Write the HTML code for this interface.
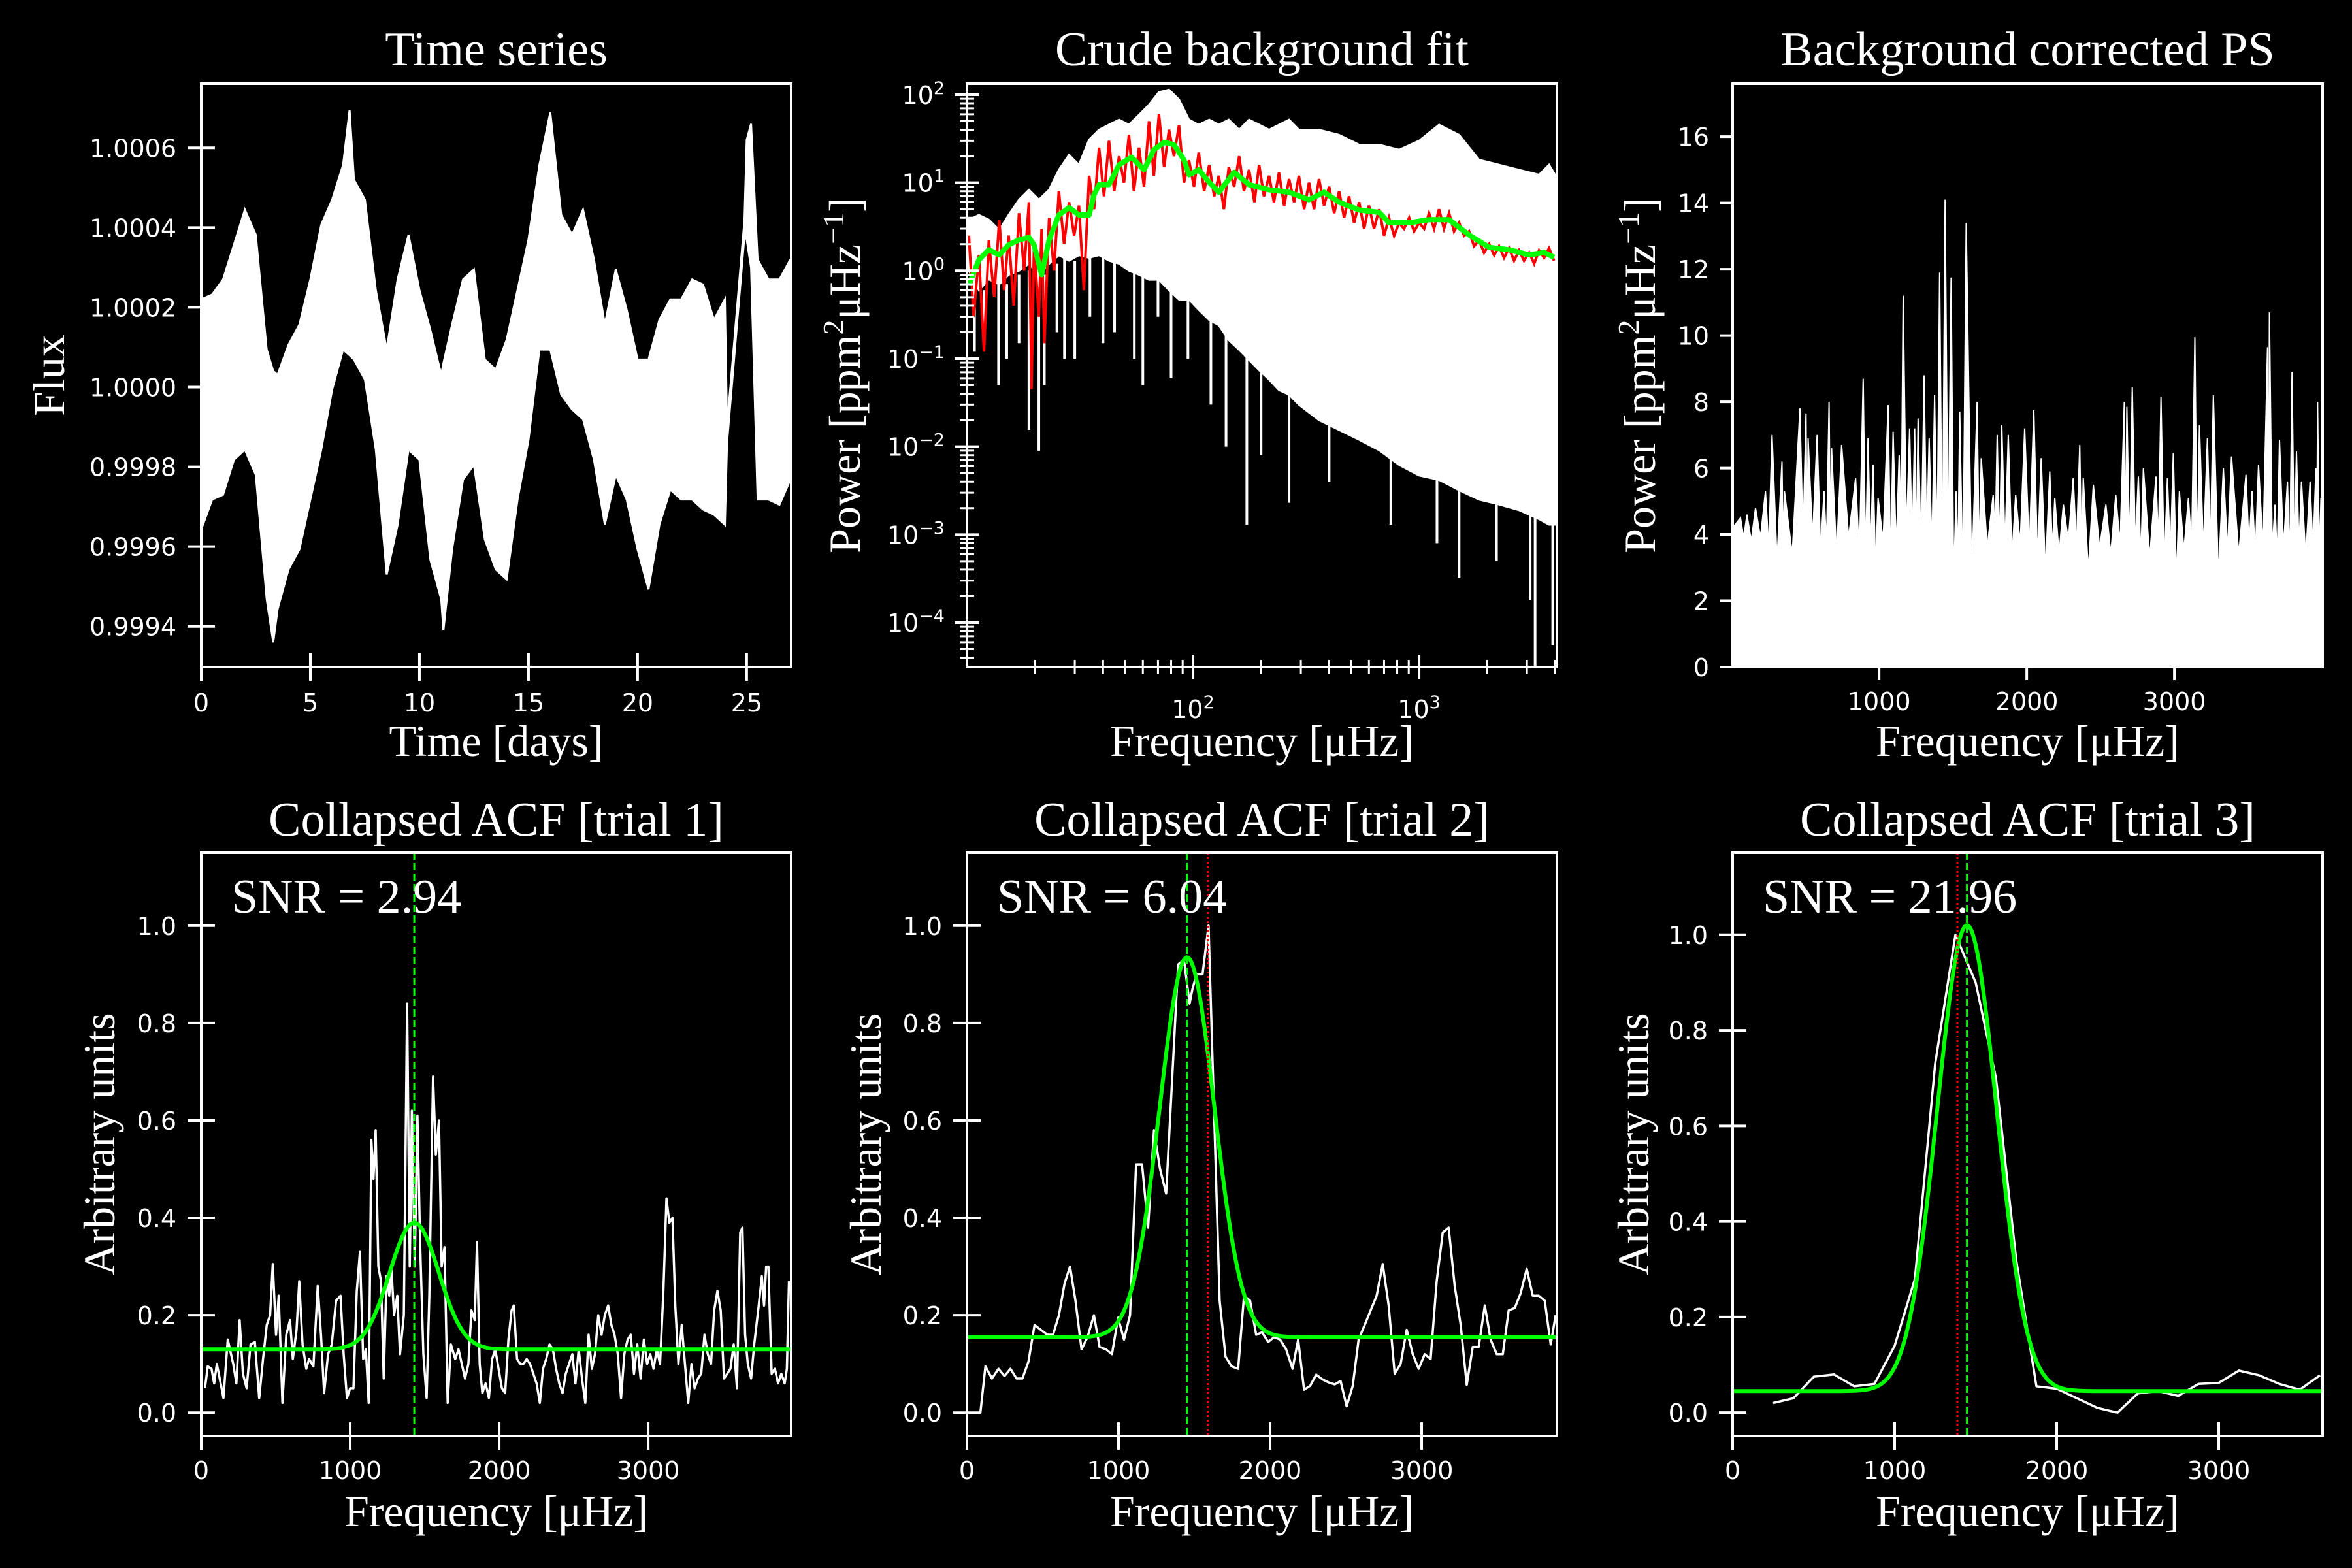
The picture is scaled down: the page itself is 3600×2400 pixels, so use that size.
<!DOCTYPE html>
<html><head><meta charset="utf-8"><title>Seismic diagnostics</title>
<style>html,body{margin:0;padding:0;background:#000;}svg{display:block;}</style></head>
<body>
<svg id="fig" xmlns="http://www.w3.org/2000/svg" width="3600" height="2400" viewBox="0 0 3600 2400">
<rect x="0" y="0" width="3600" height="2400" fill="#000"/>
</svg>
<script>
// ---------- Time series (envelope of flux, ppm offset from 1) ----------
const tsDays = [0,0.5,1,1.5,2,2.5,3,3.3,3.5,4,4.5,5,5.5,6,6.5,6.8,7,7.5,8,8.5,9,9.5,10,10.5,11,11.1,11.5,12,12.5,13,13.5,14,14.5,15,15.5,16,16.5,17,17.5,18,18.5,19,19.5,20,20.5,21,21.5,22,22.5,23,23.5,24,24.1,24.9,25,25.2,25.5,26,26.5,27];
const tsUpperPpm = [220,232,270,357,445,382,94,40,31,106,157,270,407,470,557,695,520,470,244,94,270,382,244,144,31,60,157,270,295,69,44,119,244,370,557,689,432,382,445,320,157,295,194,69,69,169,220,220,270,257,169,220,-100,420,620,660,320,270,270,320];
const tsLowerPpm = [-357,-282,-270,-182,-157,-220,-532,-640,-557,-457,-407,-282,-157,-6,94,80,69,19,-157,-470,-345,-157,-182,-432,-532,-610,-407,-232,-195,-382,-457,-482,-282,-132,94,94,-19,-56,-81,-182,-345,-220,-282,-407,-507,-345,-257,-282,-282,-307,-320,-345,-140,380,370,300,-282,-282,-295,-232];
const tsXTicks = [0,5,10,15,20,25];
const tsYTicks = ["0.9994","0.9996","0.9998","1.0000","1.0002","1.0004","1.0006"];

// ---------- Crude background fit ----------
const pwFreq = [10.2,11.3,12.5,13.9,15.3,17.0,18.8,20.8,23.1,25.5,28.3,31.3,34.7,38.4,42.5,47.1,52.1,57.7,63.9,70.7,78.3,86.7,96,106,118,130,144,160,177,196,217,240,266,294,361,443,543,666,816,1000,1225,1503,1842,2258,2768,3394,3758,4018];
const pwUpper = [3.8,4.3,3.8,2.9,4.3,6.4,8.3,6.4,8.3,14,20.7,16,30.8,40,45.6,52,45.6,59,77,107,114,88,52,45.6,52,45.6,52,40,52,45.6,40,45.6,52,40,40,35,27,27,23.7,30,45.6,35,18.2,16,14,12.3,16,12];
const pwLower = [1.0,0.6,0.8,0.7,0.9,1.0,1.2,0.9,1.2,1.5,1.3,1.5,1.4,1.5,1.3,1.2,1.0,0.9,0.79,0.79,0.6,0.47,0.47,0.36,0.275,0.24,0.163,0.126,0.097,0.074,0.058,0.044,0.039,0.03,0.02,0.0155,0.012,0.0091,0.0062,0.0047,0.0042,0.0032,0.0025,0.0022,0.0019,0.0015,0.0013,0.0013];
const pwDipFreq = [10.8,11.9,13.8,15.0,17.0,18.8,20.8,22.0,25.0,27.0,30.0,35.0,40.0,45.0,55.0,60.0,70.0,80.0,95.0,120,140,173,200,266,400,750,1200,1503,2200,3100,3260,3900];
const pwDipPow = [0.12,0.2,0.05,0.1,0.15,0.0155,0.009,0.05,0.2,0.1,0.1,0.3,0.15,0.2,0.1,0.05,0.3,0.06,0.1,0.03,0.01,0.0013,0.008,0.0023,0.004,0.0013,0.0008,0.00032,0.0005,0.00018,0.00003,0.000055];
const redFreq = [10.2,10.7,11.3,11.9,12.5,13.2,13.9,14.6,15.3,16.1,17.0,17.9,18.8,19.3,19.8,20.8,21.4,22.0,23.1,24.3,25.5,26.9,28.3,29.8,31.3,32.9,34.7,36.5,38.4,40.4,42.5,44.8,47.1,49.5,52.1,54.8,57.7,60.7,63.9,67.1,70.7,74.5,78.3,82.4,86.7,91.2,96,101,106,112,118,124,130,137,144,152,160,168,177,187,196,206,217,228,240,253,266,280,294,310,326,343,361,380,400,421,443,466,490,516,543,571,600,632,666,700,736,775,816,858,904,951,1000,1053,1107,1165,1225,1289,1358,1428,1503,1582,1663,1750,1842,1938,2042,2148,2258,2376,2500,2630,2768,2912,3069,3228,3394,3573,3758,3954];
const redPow = [2.5,0.3,1.5,0.12,2.2,0.5,3.8,0.6,2.5,0.4,4.5,1.0,6.0,0.045,2.0,0.3,3.0,0.15,4.0,1.0,8.0,2.0,6.0,2.5,5.5,0.6,12,5,25,7,30,8,20,10,35,8,25,9,50,12,60,15,40,20,45,10,18,9,22,8,16,7,12,5,15,9,20,8,14,6,16,7,12,6,13,5.5,11,6,12,5,10,5,11,5.5,9,4.5,8,4,7,3.5,6,3,5.5,3,5,2.5,4,2.5,3.5,3,4,2.8,3.5,3,4.5,3,5,3,4.5,2.8,3.5,2.5,2.8,1.9,2.2,1.6,2.0,1.5,1.9,1.4,1.8,1.3,1.7,1.3,1.6,1.2,1.7,1.4,1.8,1.3];
const greenFreq = [10.2,11.3,12.5,13.9,15.3,17.0,18.8,19.8,21.4,23.1,25.5,28.3,31.3,34.7,36.5,38.4,42.5,47.1,53.5,60.7,67.1,74.5,82.4,91.2,96.0,106,118,130,152,177,217,266,326,380,443,543,666,736,904,1107,1358,1663,2042,2500,3069,3573,3954];
const greenPow = [0.69,1.33,1.73,1.51,1.97,2.24,2.39,1.97,0.90,2.24,4.3,5.2,4.3,4.3,7.3,9.5,9.5,16.0,19.5,14.0,23.7,28.8,27.0,18.2,12.3,14.0,10.1,7.8,13.1,9.5,8.3,7.8,6.4,7.8,6.0,4.9,4.6,3.5,3.5,3.8,3.8,2.55,1.84,1.73,1.51,1.61,1.42];
const pwYExp = [2,1,0,-1,-2,-3,-4];
const pwXExp = [2,3];

// ---------- Background corrected PS ----------
const psFreq = [61,105,163,230,275,342,359,464,505,519,580,627,661,678,746,841,892,925,959,993,1061,1095,1136,1163,1207,1241,1264,1305,1339,1376,1410,1447,1488,1522,1546,1590,1664,1692,1773,1800,1831,1875,1925,1986,2048,2098,2156,2190,2248,2315,2359,2383,2451,2536,2603,2661,2678,2715,2756,2790,2875,2909,2953,2993,3034,3095,3139,3170,3224,3264,3332,3387,3485,3526,3570,3631,3644,3682,3712,3766,3797,3827,3861,3919,3959,3970,3993];
const psPeak = [4.5,4.6,4.8,5.3,7.0,6.2,5.3,7.8,7.65,6.9,7.0,5.3,8.0,6.6,6.7,5.7,8.7,6.9,6.1,5.1,7.9,7.1,6.4,11.2,7.2,7.2,7.5,8.8,6.9,8.2,11.9,14.1,11.75,5.3,7.7,13.4,8.0,6.3,5.2,7.0,7.3,7.0,5.2,7.2,7.75,6.3,5.9,5.1,4.9,5.7,6.7,5.7,5.5,4.9,5.2,8.0,7.85,8.45,5.75,6.0,5.75,8.15,5.7,6.45,5.3,5.1,9.95,7.3,6.9,8.2,6.0,6.35,5.8,5.3,6.1,9.65,10.7,4.9,6.85,5.6,8.9,6.5,5.6,5.6,6.0,8.0,5.1];
const psValley = [3.9,3.8,3.9,3.6,3.2,3.5,3.4,3.8,3.6,3.9,3.5,3.6,3.8,3.4,3.9,3.3,3.2,3.5,3.0,3.8,3.0,3.5,4.0,3.9,3.6,3.4,3.3,3.7,3.4,3.4,2.6,3.2,2.5,3.1,2.5,2.6,3.2,3.6,3.8,3.5,3.6,3.3,3.7,3.5,3.2,2.9,3.5,3.4,3.8,3.6,3.3,2.9,3.6,3.4,3.7,3.5,3.4,3.6,3.2,3.3,3.7,3.0,3.4,2.6,3.5,3.6,3.2,3.5,3.6,2.7,3.5,3.4,3.6,3.4,3.6,3.3,3.5,3.2,3.6,3.1,3.4,3.6,3.3,3.5,3.4,3.2,2.9];
const psXTicks = [1000,2000,3000];
const psYTicks = [0,2,4,6,8,10,12,14,16];

// ---------- Collapsed ACF trials ----------
const acf1Freq = [25,44,69,87,105,124,149,178,215,236,258,280,305,331,360,389,415,440,462,480,502,520,545,571,596,615,640,658,680,705,724,753,782,804,825,851,876,905,935,956,978,1000,1022,1044,1065,1087,1105,1124,1142,1156,1171,1189,1207,1225,1244,1262,1276,1294,1316,1334,1360,1382,1400,1414,1433,1451,1469,1491,1513,1531,1556,1575,1596,1614,1633,1654,1676,1705,1727,1749,1771,1793,1814,1836,1851,1869,1887,1909,1931,1953,1974,1996,2018,2040,2062,2083,2098,2120,2142,2163,2185,2207,2229,2251,2273,2294,2316,2338,2360,2382,2403,2425,2447,2469,2491,2512,2534,2556,2578,2600,2622,2643,2665,2687,2709,2731,2753,2774,2796,2818,2840,2862,2883,2905,2927,2949,2971,2993,3014,3036,3058,3080,3102,3123,3142,3163,3182,3203,3225,3247,3269,3291,3312,3334,3356,3378,3400,3422,3443,3465,3487,3509,3531,3552,3574,3596,3618,3633,3651,3669,3691,3712,3742,3763,3778,3792,3807,3829,3851,3872,3894,3916,3931,3945];
const acf1Val = [0.05,0.095,0.09,0.06,0.1,0.07,0.03,0.15,0.1,0.06,0.19,0.08,0.05,0.14,0.145,0.03,0.11,0.18,0.2,0.305,0.16,0.24,0.02,0.16,0.19,0.11,0.17,0.27,0.14,0.09,0.11,0.095,0.26,0.16,0.04,0.12,0.14,0.23,0.24,0.12,0.03,0.05,0.05,0.25,0.33,0.11,0.13,0.02,0.56,0.48,0.58,0.3,0.27,0.07,0.28,0.24,0.3,0.2,0.24,0.12,0.2,0.84,0.3,0.62,0.3,0.61,0.35,0.12,0.03,0.24,0.69,0.53,0.6,0.3,0.34,0.02,0.14,0.11,0.13,0.1,0.07,0.1,0.21,0.19,0.35,0.1,0.04,0.06,0.03,0.11,0.13,0.09,0.05,0.04,0.15,0.21,0.22,0.11,0.1,0.1,0.11,0.1,0.08,0.06,0.02,0.09,0.11,0.14,0.13,0.09,0.06,0.04,0.08,0.1,0.12,0.06,0.13,0.07,0.02,0.16,0.09,0.12,0.2,0.16,0.2,0.22,0.18,0.16,0.12,0.03,0.12,0.15,0.16,0.08,0.14,0.07,0.15,0.1,0.12,0.09,0.13,0.1,0.25,0.44,0.39,0.4,0.22,0.1,0.18,0.1,0.02,0.1,0.05,0.07,0.08,0.16,0.12,0.1,0.21,0.25,0.21,0.07,0.08,0.09,0.14,0.05,0.37,0.38,0.16,0.1,0.07,0.14,0.22,0.28,0.22,0.3,0.3,0.08,0.09,0.06,0.08,0.06,0.09,0.27];
const acf2Freq = [0,89,122,165,208,248,287,327,366,406,446,488,531,568,607,644,680,716,756,795,838,875,917,957,997,1036,1076,1116,1155,1195,1234,1274,1314,1353,1393,1432,1469,1488,1515,1554,1594,1634,1667,1706,1746,1789,1828,1868,1908,1947,1987,2026,2066,2106,2148,2185,2224,2264,2304,2347,2386,2426,2465,2505,2545,2584,2624,2663,2703,2743,2782,2822,2861,2901,2941,2980,3020,3059,3099,3139,3178,3218,3257,3297,3337,3376,3416,3455,3495,3535,3574,3614,3653,3693,3733,3772,3812,3851,3884];
const acf2Val = [0,0,0.095,0.07,0.09,0.075,0.09,0.07,0.07,0.105,0.18,0.17,0.16,0.16,0.2,0.265,0.3,0.23,0.13,0.155,0.2,0.135,0.13,0.12,0.195,0.15,0.2,0.51,0.51,0.38,0.58,0.5,0.45,0.68,0.92,0.93,0.84,0.87,0.9,0.9,1.0,0.58,0.23,0.115,0.095,0.09,0.24,0.23,0.16,0.165,0.145,0.155,0.15,0.13,0.09,0.15,0.047,0.055,0.078,0.068,0.062,0.058,0.065,0.013,0.055,0.15,0.18,0.21,0.24,0.305,0.22,0.08,0.1,0.17,0.12,0.09,0.12,0.11,0.27,0.37,0.38,0.26,0.18,0.057,0.135,0.135,0.22,0.15,0.12,0.12,0.21,0.215,0.245,0.295,0.24,0.24,0.23,0.14,0.2];
const acf3Freq = [250,375,500,625,750,875,1000,1125,1250,1375,1500,1625,1750,1875,2000,2125,2250,2375,2500,2625,2750,2875,3000,3125,3250,3375,3500,3625];
const acf3Val = [0.02,0.03,0.075,0.08,0.055,0.06,0.14,0.28,0.73,1.0,0.9,0.7,0.32,0.055,0.05,0.03,0.01,0.0,0.04,0.045,0.035,0.06,0.062,0.088,0.078,0.06,0.048,0.078];
// fitted gaussian parameters per trial: baseline, amplitude, centre, sigma
const fitBase = [0.13,0.155,0.045];
const fitAmp = [0.26,0.78,0.975];
const fitCentre = [1430,1452,1446];
const fitSigma = [165,180,183];
const trueMarker = [null,1590,1387];
const snrLabels = ["2.94","6.04","21.96"];
const acfXTicks = [0,1000,2000,3000];
const acfYTicks = ["0.0","0.2","0.4","0.6","0.8","1.0"];

// ================= drawing =================
const NS = "http://www.w3.org/2000/svg";
const svg = document.getElementById("fig");
function mk(tag, attrs, parent) {
  const e = document.createElementNS(NS, tag);
  for (const k in attrs) e.setAttribute(k, attrs[k]);
  (parent || svg).appendChild(e);
  return e;
}
function linScale(d0, d1, r0, r1) { return v => r0 + (v - d0) / (d1 - d0) * (r1 - r0); }
function logScale(d0, d1, r0, r1) { return v => r0 + (Math.log10(v) - Math.log10(d0)) / (Math.log10(d1) - Math.log10(d0)) * (r1 - r0); }
const SANS = "DejaVu Sans, Liberation Sans, sans-serif";
const SERIF = "Liberation Serif, DejaVu Serif, serif";

function panel(name, x0, y0, x1, y1) {
  const g = mk("g", {});
  
  
  const cid = name + "-clip";
  const cp = mk("clipPath", {id: cid}, g);
  mk("rect", {x: x0, y: y0, width: x1 - x0, height: y1 - y0}, cp);
  const plot = mk("g", {"clip-path": "url(#" + cid + ")"}, g);
  
  
  return {g, plot, x0, y0, x1, y1};
}
function frame(p) {
  const r = mk("rect", {x: p.x0, y: p.y0, width: p.x1 - p.x0, height: p.y1 - p.y0, fill: "none", stroke: "#fff", "stroke-width": 4}, p.g);
  
  
}
function text(parent, x, y, str, opts) {
  const t = mk("text", {x, y, fill: "#fff", "font-family": opts.family || SANS, "font-size": opts.size || 38, "text-anchor": opts.anchor || "middle"}, parent);
  if (opts.rotate) t.setAttribute("transform", "rotate(-90 " + x + " " + y + ")");
  t.textContent = str;
  return t;
}
function xTick(p, x, len_in, len_out, w) {
  const l = mk("line", {x1: x, x2: x, y1: p.y1 - len_in, y2: p.y1 + len_out, stroke: "#fff", "stroke-width": w}, p.g);
  
  
}
function yTick(p, y, len_in, len_out, w) {
  const l = mk("line", {x1: p.x0 - len_out, x2: p.x0 + len_in, y1: y, y2: y, stroke: "#fff", "stroke-width": w}, p.g);
  
  
}
function title(p, str, y) {
  const t = text(p.g, (p.x0 + p.x1) / 2, y, str, {family: SERIF, size: 74});
  
  
}
function xlabel(p, str, y) {
  const t = text(p.g, (p.x0 + p.x1) / 2, y, str, {family: SERIF, size: 68});
  
  
}
function ylabelPlain(p, str, x) {
  const t = text(p.g, x, (p.y0 + p.y1) / 2, str, {family: SERIF, size: 68, rotate: true});
  
  
}
function ylabelPower(p, x) {
  const t = text(p.g, x, (p.y0 + p.y1) / 2, "", {family: SERIF, size: 68, rotate: true});
  
  
  const parts = [["Power [ppm", 0], ["2", 1], ["μHz", 0], ["−1", 1], ["]", 0]];
  parts.forEach(([s, sup]) => {
    const ts = mk("tspan", sup ? {"baseline-shift": "super", "font-size": 46} : {}, t);
    ts.textContent = s;
  });
}
function pathFrom(pts) { return pts.map((q, i) => (i ? "L" : "M") + q[0].toFixed(1) + "," + q[1].toFixed(1)).join(""); }

// ---- Panel 1: Time series ----
(function () {
  const p = panel("time-series-panel", 308, 128, 1211, 1021);
  const sx = linScale(0, 27.04, p.x0, p.x1);
  const sy = linScale(0.999298, 1.000761, p.y1, p.y0);
  const pts = [];
  tsDays.forEach((d, i) => pts.push([sx(d), sy(1 + tsUpperPpm[i] * 1e-6)]));
  for (let i = tsDays.length - 1; i >= 0; i--) pts.push([sx(tsDays[i]), sy(1 + tsLowerPpm[i] * 1e-6)]);
  const band = mk("path", {d: pathFrom(pts) + "Z", fill: "#fff", stroke: "#fff", "stroke-width": 3}, p.plot);
  
  
  frame(p);
  tsXTicks.forEach(v => { xTick(p, sx(v), 21, 21, 4); text(p.g, sx(v), p.y1 + 68, String(v), {}); });
  tsYTicks.forEach(s => { const y = sy(parseFloat(s)); yTick(p, y, 21, 21, 4); text(p.g, p.x0 - 38, y + 14, s, {anchor: "end"}); });
  title(p, "Time series", 100);
  xlabel(p, "Time [days]", 1157);
  ylabelPlain(p, "Flux", 98);
})();

// ---- Panel 2: Crude background fit ----
(function () {
  const p = panel("background-fit-panel", 1480, 128, 2383, 1021);
  const sx = logScale(10, 4070, p.x0, p.x1);
  const sy = logScale(Math.pow(10, -4.505), Math.pow(10, 2.126), p.y1, p.y0);
  const pts = [];
  pwFreq.forEach((f, i) => pts.push([sx(f), sy(pwUpper[i])]));
  for (let i = pwFreq.length - 1; i >= 0; i--) pts.push([sx(pwFreq[i]), sy(pwLower[i])]);
  const band = mk("path", {d: pathFrom(pts) + "Z", fill: "#fff", stroke: "#fff", "stroke-width": 3}, p.plot);
  
  
  pwDipFreq.forEach((f, i) => {
    let j = 0; while (j < pwFreq.length - 1 && pwFreq[j + 1] < f) j++;
    const l = mk("line", {x1: sx(f), x2: sx(f), y1: sy(pwLower[j]), y2: sy(pwDipPow[i]), stroke: "#fff", "stroke-width": 4}, p.plot);
    
    
  });
  const red = mk("path", {d: pathFrom(redFreq.map((f, i) => [sx(f), sy(redPow[i])])), fill: "none", stroke: "#ff0000", "stroke-width": 4}, p.plot);
  
  
  const grn = mk("path", {d: pathFrom(greenFreq.map((f, i) => [sx(f), sy(greenPow[i])])), fill: "none", stroke: "#00ff00", "stroke-width": 8, "stroke-linejoin": "round"}, p.plot);
  
  
  frame(p);
  pwYExp.forEach(e => {
    const y = sy(Math.pow(10, e));
    yTick(p, y, 19, 19, 4);
    const t = text(p.g, p.x0 - 34, y + 14, "", {anchor: "end"});
    const a = mk("tspan", {}, t); a.textContent = "10";
    const b = mk("tspan", {"baseline-shift": "super", "font-size": 27}, t); b.textContent = e < 0 ? "−" + (-e) : String(e);
    for (let m = 2; m <= 9; m++) { const v = m * Math.pow(10, e - 1); if (sy(v) < p.y1 && sy(v) > p.y0) yTick(p, sy(v), 11, 11, 3); }
  });
  for (let m = 2; m <= 9; m++) { const v = m * Math.pow(10, 2); if (sy(v) > p.y0) yTick(p, sy(v), 11, 11, 3); }
  [20, 30, 40, 50, 60, 70, 80, 90, 200, 300, 400, 500, 600, 700, 800, 900, 2000, 3000, 4000].forEach(f => {
    const x = sx(f); if (x > p.x0 && x < p.x1) xTick(p, x, 11, 11, 3);
  });
  pwXExp.forEach(e => {
    const x = sx(Math.pow(10, e)); xTick(p, x, 19, 19, 4);
    const t = text(p.g, x, p.y1 + 78, "", {});
    const a = mk("tspan", {}, t); a.textContent = "10";
    const b = mk("tspan", {"baseline-shift": "super", "font-size": 27}, t); b.textContent = String(e);
  });
  title(p, "Crude background fit", 100);
  xlabel(p, "Frequency [μHz]", 1157);
  ylabelPower(p, 1316);
})();

// ---- Panel 3: Background corrected PS ----
(function () {
  const p = panel("corrected-ps-panel", 2652, 128, 3555, 1021);
  const sx = linScale(8, 4004, p.x0, p.x1);
  const sy = linScale(0, 17.6, p.y1, p.y0);
  const pts = [[sx(8), sy(0)], [sx(8), sy(4.2)]];
  psFreq.forEach((f, i) => {
    pts.push([sx(f), sy(psPeak[i])]);
    const nf = i < psFreq.length - 1 ? (f + psFreq[i + 1]) / 2 : 4004;
    pts.push([sx(nf), sy(psValley[i])]);
  });
  pts.push([sx(4004), sy(0)]);
  const fill = mk("path", {d: pathFrom(pts) + "Z", fill: "#fff", stroke: "#fff", "stroke-width": 2}, p.plot);
  
  
  frame(p);
  psXTicks.forEach(v => { xTick(p, sx(v), 0, 20, 4); text(p.g, sx(v), p.y1 + 66, String(v), {}); });
  psYTicks.forEach(v => { const y = sy(v); yTick(p, y, 0, 20, 4); text(p.g, p.x0 - 36, y + 14, String(v), {anchor: "end"}); });
  title(p, "Background corrected PS", 100);
  xlabel(p, "Frequency [μHz]", 1157);
  ylabelPower(p, 2533);
})();

// ---- Bottom: Collapsed ACF ----
const acfFreqs = [acf1Freq, acf2Freq, acf3Freq];
const acfVals = [acf1Val, acf2Val, acf3Val];
const acfGeom = [[308, 1211, 3960, 1.15], [1480, 2383, 3892, 1.15], [2652, 3555, 3641, 1.172]];
const acfYLabelX = [175, 1348, 2523];
[0, 1, 2].forEach(k => {
  const [x0, x1, xmax, ymax] = acfGeom[k];
  const p = panel("acf-trial-" + (k + 1) + "-panel", x0, 1305, x1, 2198);
  const sx = linScale(0, xmax, p.x0, p.x1);
  const sy = linScale(k === 2 ? -0.049 : -0.048, ymax, p.y1, p.y0);
  const ln = mk("path", {d: pathFrom(acfFreqs[k].map((f, i) => [sx(f), sy(acfVals[k][i])])), fill: "none", stroke: "#fff", "stroke-width": 3.5, "stroke-linejoin": "round"}, p.plot);
  
  
  const g = [];
  for (let f = 0; f <= xmax; f += 10) {
    const v = fitBase[k] + fitAmp[k] * Math.exp(-0.5 * Math.pow((f - fitCentre[k]) / fitSigma[k], 2));
    g.push([sx(f), sy(v)]);
  }
  const fit = mk("path", {d: pathFrom(g), fill: "none", stroke: "#00ff00", "stroke-width": 6}, p.plot);
  
  
  const vc = mk("line", {x1: sx(fitCentre[k]), x2: sx(fitCentre[k]), y1: p.y0, y2: p.y1, stroke: "#00ff00", "stroke-width": 3, "stroke-dasharray": "11,5"}, p.plot);
  
  
  if (trueMarker[k] !== null) {
    const vr = mk("line", {x1: sx(trueMarker[k]), x2: sx(trueMarker[k]), y1: p.y0, y2: p.y1, stroke: "#ff0000", "stroke-width": 3, "stroke-dasharray": "3,4"}, p.plot);
    
    
  }
  frame(p);
  acfXTicks.forEach(v => { xTick(p, sx(v), 21, 21, 4); text(p.g, sx(v), p.y1 + 66, String(v), {}); });
  acfYTicks.forEach(s => { const y = sy(parseFloat(s)); yTick(p, y, 21, 21, 4); text(p.g, p.x0 - 38, y + 14, s, {anchor: "end"}); });
  title(p, "Collapsed ACF [trial " + (k + 1) + "]", 1279);
  xlabel(p, "Frequency [μHz]", 2336);
  ylabelPlain(p, "Arbitrary units", acfYLabelX[k]);
  const snr = text(p.g, p.x0 + 46, 1397, "SNR = " + snrLabels[k], {family: SERIF, size: 74, anchor: "start"});
  
  
});
</script>
</body></html>
